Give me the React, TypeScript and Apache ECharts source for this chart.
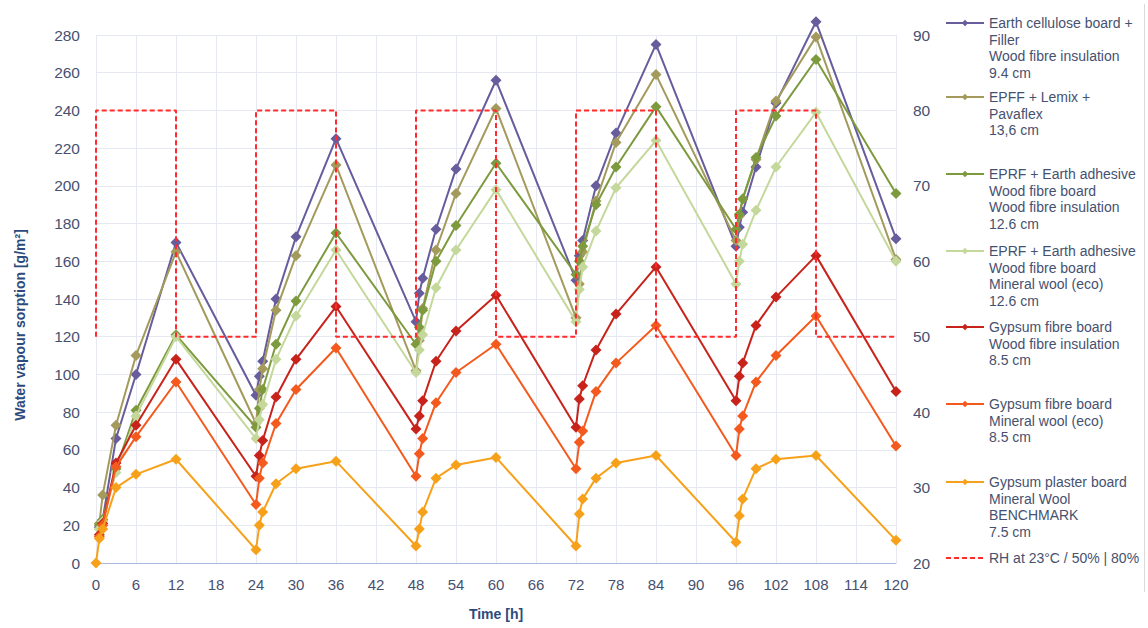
import React, { useEffect, useRef } from "react";
import * as echarts from "echarts";

const TIME = [0, 0.5, 1, 3, 6, 12, 24, 24.5, 25, 27, 30, 36, 48, 48.5, 49, 51, 54, 60, 72, 72.5, 73, 75, 78, 84, 96, 96.5, 97, 99, 102, 108, 120];

const SERIES_NAMES = [
  "Earth cellulose board +\nFiller\nWood fibre insulation\n9.4 cm",
  "EPFF + Lemix +\nPavaflex\n13,6 cm",
  "EPRF + Earth adhesive\nWood fibre board\nWood fibre insulation\n12.6 cm",
  "EPRF + Earth adhesive\nWood fibre board\nMineral wool (eco)\n12.6 cm",
  "Gypsum fibre board\nWood fibre insulation\n8.5 cm",
  "Gypsum fibre board\nMineral wool (eco)\n8.5 cm",
  "Gypsum plaster board\nMineral Wool\nBENCHMARK\n7.5 cm",
];
const RH_NAME = "RH at 23°C / 50% | 80%";
const Y_NAME = "Water vapour sorption [g/m²]";
const X_NAME = "Time [h]";

const EARTH_CELLULOSE = [null, 19, 23, 66, 100, 170, 89, 99, 107, 140, 173, 225, 128, 143, 151, 177, 209, 256, 150, 163, 171, 200, 228, 275, 168, 178, 186, 210, 244, 287, 172];
const EPFF_LEMIX = [null, 21, 36, 73, 110, 165, 74, 92, 103, 134, 163, 211, 102, 118, 135, 166, 196, 241, 130, 148, 165, 192, 223, 259, 171, 184, 193, 214, 245, 279, 161];
const EPRF_WOOD = [null, 20, 23, 50, 81, 121, 72, 82, 92, 116, 139, 175, 116, 125, 134, 160, 179, 212, 153, 160, 168, 190, 210, 242, 177, 185, 193, 215, 237, 267, 196];
const EPRF_MINERAL = [null, 18, 22, 48, 78, 120, 66, 76, 84, 108, 131, 166, 101, 113, 121, 146, 166, 198, 128, 145, 157, 176, 199, 224, 148, 160, 169, 187, 210, 239, 160];
const GYPSUM_FIBRE_WOOD = [null, 15, 21, 53, 73, 108, 46, 57, 65, 88, 108, 136, 71, 78, 86, 107, 123, 142, 72, 87, 94, 113, 132, 157, 86, 99, 106, 126, 141, 163, 91];
const GYPSUM_FIBRE_MINERAL = [null, 14, 20, 51, 67, 96, 31, 45, 53, 74, 92, 114, 46, 58, 66, 85, 101, 116, 50, 64, 70, 91, 106, 126, 57, 71, 78, 96, 110, 131, 62];
const BENCHMARK = [0, 13, 18, 40, 47, 55, 7, 20, 27, 42, 50, 54, 9, 18, 27, 45, 52, 56, 9, 26, 34, 45, 53, 57, 11, 25, 34, 50, 55, 57, 12];

const RH_TIME = [0, 0, 12, 12, 24, 24, 36, 36, 48, 48, 60, 60, 72, 72, 84, 84, 96, 96, 108, 108, 120];
const RH_VALUES = [50, 80, 80, 50, 50, 80, 80, 50, 50, 80, 80, 50, 50, 80, 80, 50, 50, 80, 80, 50, 50];

const X_TICKS = { min: 0, max: 120, interval: 6 };
const Y_LEFT = { min: 0, max: 280, interval: 20 };
const Y_RIGHT = { min: 20, max: 90, interval: 10 };

const VALUES = [EARTH_CELLULOSE, EPFF_LEMIX, EPRF_WOOD, EPRF_MINERAL, GYPSUM_FIBRE_WOOD, GYPSUM_FIBRE_MINERAL, BENCHMARK];
const COLORS = ["#675c9c", "#a39a5c", "#7d9a3e", "#c5d89b", "#c8231b", "#f45a1e", "#f7a11b"];
const RH_COLOR = "#ff2a2a";

const FONT = "'Liberation Sans', Arial, sans-serif";
const LABEL_COLOR = "#46516f";
const NAME_COLOR = "#2d4a7c";

export default function App() {
  const ref = useRef<HTMLDivElement>(null);
  useEffect(() => {
    if (!ref.current) return;
    const chart = echarts.init(ref.current, undefined, { renderer: "svg" });

    const series: any[] = VALUES.map((vals, i) => ({
      name: SERIES_NAMES[i],
      type: "line",
      yAxisIndex: 0,
      data: TIME.map((t, j) => [t, vals[j]]),
      symbol: "diamond",
      symbolSize: 11,
      showAllSymbol: true,
      clip: false,
      itemStyle: { color: COLORS[i] },
      lineStyle: { color: COLORS[i], width: 2 },
      z: 3 + i,
    }));
    series.push({
      name: RH_NAME,
      type: "line",
      yAxisIndex: 1,
      data: RH_TIME.map((t, j) => [t, RH_VALUES[j]]),
      symbol: "none",
      clip: false,
      itemStyle: { color: RH_COLOR },
      lineStyle: { color: RH_COLOR, width: 2, type: [5, 3] },
      z: 20,
    });

    const allNames = [...SERIES_NAMES, RH_NAME];
    const iconY = [23, 97, 174, 251, 327, 404, 482, 558];
    const LH = 16.5;
    const legends = allNames.map((name, i) => {
      const n = name.split("\n").length;
      const isRH = name === RH_NAME;
      return {
        orient: "vertical",
        left: 945,
        top: iconY[i] - ((2 * n - 1) * LH) / 2,
        padding: 0,
        itemWidth: 38,
        itemHeight: 8,
        data: [isRH ? { name, itemStyle: { opacity: 0 } } : name],
        selectedMode: false,
        formatter: (nm: string) => "\n".repeat(n - 1) + nm,
        textStyle: {
          color: LABEL_COLOR,
          fontFamily: FONT,
          fontSize: 14,
          lineHeight: LH,
        },
      };
    });

    chart.setOption({
      animation: false,
      backgroundColor: "#ffffff",
      textStyle: { fontFamily: FONT },
      grid: { left: 96, right: 252, top: 35, bottom: 65, containLabel: false },
      legend: legends,
      xAxis: {
        type: "value",
        min: X_TICKS.min,
        max: X_TICKS.max,
        interval: X_TICKS.interval,
        name: X_NAME,
        nameLocation: "middle",
        nameGap: 44,
        nameTextStyle: { color: NAME_COLOR, fontWeight: "bold", fontSize: 14, fontFamily: FONT },
        axisLine: { show: true, lineStyle: { color: "#aab8e4", width: 1 } },
        axisTick: { show: false },
        axisLabel: { color: LABEL_COLOR, fontSize: 15, margin: 14, fontFamily: FONT },
        splitLine: { show: true, lineStyle: { color: "#e6e9f1", width: 1 } },
      },
      yAxis: [
        {
          type: "value",
          min: Y_LEFT.min,
          max: Y_LEFT.max,
          interval: Y_LEFT.interval,
          axisLine: { show: false },
          axisTick: { show: false },
          axisLabel: { color: LABEL_COLOR, fontSize: 15.5, margin: 16, fontFamily: FONT },
          splitLine: { show: true, lineStyle: { color: "#e6e9f1", width: 1 } },
        },
        {
          type: "value",
          position: "right",
          min: Y_RIGHT.min,
          max: Y_RIGHT.max,
          interval: Y_RIGHT.interval,
          axisLine: { show: false },
          axisTick: { show: false },
          axisLabel: { color: LABEL_COLOR, fontSize: 15.5, margin: 17, fontFamily: FONT },
          splitLine: { show: false },
        },
      ],
      graphic: [
        {
          type: "text",
          x: 20,
          y: 325,
          rotation: Math.PI / 2,
          silent: true,
          style: {
            text: Y_NAME,
            fill: NAME_COLOR,
            font: `bold 14px ${FONT}`,
            align: "center",
            verticalAlign: "middle",
          },
        },
        {
          type: "line",
          shape: { x1: 1144.5, y1: 4, x2: 1144.5, y2: 592 },
          style: { stroke: "#d9d9d9", lineWidth: 1 },
          silent: true,
        },
      ],
      series,
    });

    return () => chart.dispose();
  }, []);

  return (
    <div
      ref={ref}
      style={{ position: "fixed", left: 0, top: 0, width: 1148, height: 628, background: "#fff" }}
    />
  );
}
